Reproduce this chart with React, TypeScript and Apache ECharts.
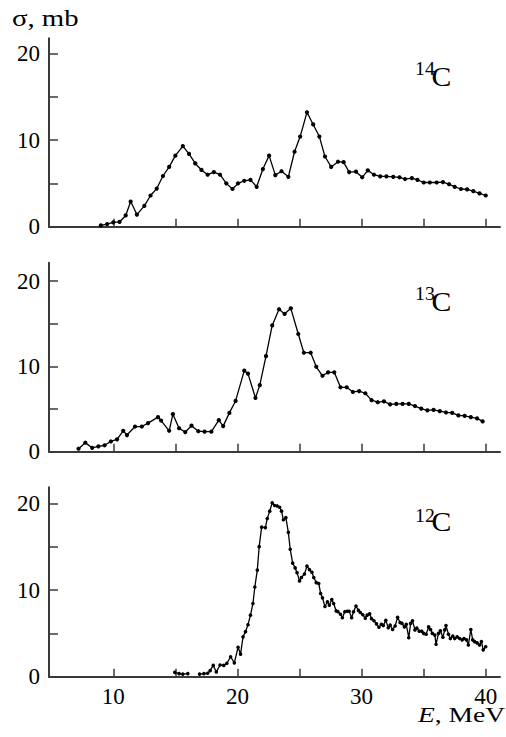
import React, { useEffect, useRef } from "react";
import * as echarts from "echarts";

// ---- Data ----
const E14 = [9.0, 9.5, 10.0, 10.5, 11.0, 11.4, 11.9, 12.5, 13.0, 13.5, 14.0, 14.5, 15.0, 15.6, 16.1, 16.6, 17.1, 17.6, 18.1, 18.6, 19.1, 19.6, 20.05, 20.55, 21.05, 21.55, 22.05, 22.55, 23.05, 23.55, 24.1, 24.6, 25.05, 25.6, 26.1, 26.6, 27.05, 27.55, 28.1, 28.55, 29.0, 29.55, 30.05, 30.5, 31.0, 31.5, 32.0, 32.55, 33.05, 33.5, 34.05, 34.5, 35.0, 35.5, 36.05, 36.55, 37.05, 37.5, 38.0, 38.5, 39.0, 39.5, 40.0];
const S14 = [0.15, 0.3, 0.5, 0.55, 1.3, 2.9, 1.4, 2.4, 3.6, 4.4, 5.85, 6.9, 8.2, 9.3, 8.4, 7.3, 6.55, 6.0, 6.3, 6.0, 5.0, 4.35, 5.0, 5.3, 5.4, 4.6, 6.65, 8.2, 5.95, 6.4, 5.75, 8.65, 10.4, 13.2, 11.8, 10.4, 8.1, 6.9, 7.5, 7.45, 6.3, 6.35, 5.7, 6.5, 6.0, 5.8, 5.8, 5.75, 5.7, 5.5, 5.6, 5.4, 5.1, 5.1, 5.1, 5.15, 4.9, 4.6, 4.35, 4.3, 4.1, 3.85, 3.6];

const E13 = [7.2, 7.75, 8.3, 8.8, 9.3, 9.8, 10.3, 10.8, 11.1, 11.75, 12.3, 12.8, 13.6, 13.85, 14.5, 14.8, 15.3, 15.8, 16.3, 16.85, 17.35, 17.9, 18.5, 18.85, 19.35, 19.85, 20.55, 20.85, 21.45, 21.8, 22.3, 22.8, 23.35, 23.8, 24.3, 24.9, 25.35, 25.9, 26.35, 26.85, 27.3, 27.8, 28.3, 28.8, 29.3, 29.8, 30.3, 30.8, 31.3, 31.8, 32.3, 32.8, 33.3, 33.8, 34.3, 34.8, 35.3, 35.8, 36.3, 36.8, 37.3, 37.8, 38.3, 38.8, 39.3, 39.75];
const S13 = [0.35, 1.05, 0.45, 0.63, 0.75, 1.2, 1.45, 2.45, 1.95, 2.95, 2.95, 3.35, 4.05, 3.65, 2.45, 4.4, 2.75, 2.3, 3.05, 2.4, 2.35, 2.35, 3.7, 3.0, 4.55, 5.95, 9.5, 9.15, 6.3, 7.8, 11.2, 14.8, 16.7, 16.15, 16.8, 13.8, 11.6, 11.6, 9.95, 8.9, 9.3, 9.3, 7.55, 7.55, 7.0, 7.1, 6.85, 6.05, 5.8, 5.9, 5.55, 5.6, 5.6, 5.6, 5.35, 5.05, 4.85, 4.9, 4.75, 4.6, 4.55, 4.25, 4.2, 4.05, 3.9, 3.55];

const E12 = [14.95, 15.3, 15.6, 16.0, 16.5, 16.95, 17.3, 17.6, 17.8, 18.05, 18.3, 18.6, 18.9, 19.15, 19.45, 19.75, 20.05, 20.25, 20.45, 20.65, 20.85, 21.05, 21.25, 21.4, 21.6, 21.75, 21.95, 22.25, 22.4, 22.6, 22.8, 23.0, 23.2, 23.4, 23.55, 23.7, 23.9, 24.1, 24.25, 24.45, 24.65, 24.8, 25.0, 25.15, 25.4, 25.6, 25.8, 26.0, 26.15, 26.35, 26.55, 26.7, 26.85, 27.05, 27.25, 27.4, 27.6, 27.75, 27.95, 28.1, 28.3, 28.45, 28.65, 28.85, 29.0, 29.2, 29.35, 29.55, 29.75, 29.9, 30.1, 30.3, 30.45, 30.65, 30.8, 31.0, 31.2, 31.4, 31.6, 31.75, 31.95, 32.15, 32.3, 32.5, 32.7, 32.9, 33.1, 33.25, 33.45, 33.6, 33.8, 33.95, 34.1, 34.3, 34.45, 34.65, 34.85, 35.0, 35.2, 35.4, 35.55, 35.7, 35.9, 36.0, 36.2, 36.35, 36.55, 36.7, 36.8, 37.0, 37.15, 37.35, 37.5, 37.7, 37.9, 38.1, 38.25, 38.45, 38.6, 38.8, 38.95, 39.1, 39.3, 39.5, 39.65, 39.8, 40.0];
const S12 = [0.5, 0.35, 0.3, 0.35, null, 0.3, 0.35, 0.4, 0.7, 1.3, 0.55, 1.35, 1.3, 1.55, 2.3, 1.6, 3.4, 2.6, 4.6, 5.2, 6.0, 7.1, 8.45, 10.35, 12.3, 15.0, 17.25, 17.2, 18.25, 19.1, 20.05, 19.75, 19.7, 19.55, 19.1, 18.1, 18.35, 16.65, 14.7, 13.1, 12.55, 12.0, 11.05, 11.45, 11.85, 12.75, 12.35, 12.05, 11.45, 10.85, 10.75, 9.6, 9.1, 8.1, 8.65, 8.25, 8.9, 8.45, 7.6, 7.5, 7.2, 6.8, 7.5, 7.55, 7.55, 6.8, 7.5, 8.15, 7.65, 7.4, 7.15, 6.75, 7.1, 7.25, 6.7, 6.45, 6.1, 5.7, 6.05, 5.9, 6.5, 5.65, 5.95, 5.45, 5.85, 6.85, 6.25, 6.15, 5.75, 6.05, 4.5, 6.15, 6.45, 5.4, 5.6, 5.25, 5.25, 5.0, 4.9, 5.75, 5.45, 5.0, 4.8, 3.75, 5.0, 5.3, 4.55, 5.4, 5.9, 4.9, 4.4, 4.7, 4.4, 4.6, 4.4, 4.25, 4.4, 4.25, 3.65, 5.45, 4.25, 4.05, 3.9, 3.65, 4.05, 3.1, 3.45];

const X_TICKS = [10, 15, 20, 25, 30, 35, 40];
const X_LABELS = [10, 20, 30, 40];
const Y_TICKS = [0, 5, 10, 15, 20];
const Y_LABELS = [0, 10, 20];
const ISOTOPES = [
  { mass: "14", symbol: "C" },
  { mass: "13", symbol: "C" },
  { mass: "12", symbol: "C" },
];
const Y_TITLE = "σ, mb";
const X_TITLE = "{i|E}, MeV";

// ---- Layout / style ----
const FONT = '"Liberation Serif", "Times New Roman", serif';
const AXIS_COLOR = "#3a3a3a";
const PANELS = [
  { top: 38.3, height: 188.4, yMax: 21.74, E: E14, S: S14, labelY: 77, supY: 69 },
  { top: 262.7, height: 189, yMax: 22.15, E: E13, S: S13, labelY: 302, supY: 294 },
  { top: 487.3, height: 189.4, yMax: 21.85, E: E12, S: S12, labelY: 522, supY: 515.5 },
];

function zip(xs: number[], ys: (number | null)[]) {
  return xs.map((x, i) => [x, ys[i] === null ? "-" : ys[i]]);
}

export default function App() {
  const ref = useRef<HTMLDivElement>(null);
  useEffect(() => {
    if (!ref.current) return;
    const chart = echarts.init(ref.current, undefined, { renderer: "svg" });
    const option: any = {
      animation: false,
      backgroundColor: "#ffffff",
      grid: PANELS.map((p) => ({ left: 49, right: 6, top: p.top, height: p.height })),
      xAxis: PANELS.map((p, i) => ({
        type: "value",
        gridIndex: i,
        min: 4.82,
        max: 41.15,
        axisLine: { show: true, onZero: false, lineStyle: { color: AXIS_COLOR, width: 2 } },
        axisTick: {
          show: true,
          inside: true,
          length: 8,
          customValues: X_TICKS,
          lineStyle: { color: AXIS_COLOR, width: 1.5 },
        },
        axisLabel: {
          show: i === 2,
          customValues: X_LABELS,
          margin: 8,
          fontFamily: FONT,
          fontSize: 23,
          color: "#000",
        },
        splitLine: { show: false },
      })),
      yAxis: PANELS.map((p, i) => ({
        type: "value",
        gridIndex: i,
        min: 0,
        max: p.yMax,
        axisLine: { show: true, onZero: false, lineStyle: { color: AXIS_COLOR, width: 2 } },
        axisTick: {
          show: true,
          inside: true,
          length: 9,
          customValues: Y_TICKS,
          lineStyle: { color: AXIS_COLOR, width: 1.5 },
        },
        axisLabel: {
          show: true,
          customValues: Y_LABELS,
          margin: 9,
          fontFamily: FONT,
          fontSize: 23,
          color: "#000",
        },
        splitLine: { show: false },
      })),
      series: PANELS.map((p, i) => ({
        type: "line",
        xAxisIndex: i,
        yAxisIndex: i,
        data: zip(p.E, p.S),
        connectNulls: false,
        symbol: "circle",
        symbolSize: i === 2 ? 3.6 : 4.2,
        showSymbol: true,
        itemStyle: { color: "#000" },
        lineStyle: { color: "#000", width: 1.3 },
      })),
      graphic: [
        {
          type: "text",
          x: 12,
          y: 18.5,
          scaleX: 1.25,
          style: {
            text: Y_TITLE,
            fontFamily: FONT,
            fontSize: 23,
            fill: "#000",
            align: "left",
            verticalAlign: "middle",
            textAlign: "left",
            textVerticalAlign: "middle",
          },
        },
        {
          type: "text",
          x: 505,
          y: 714.5,
          scaleX: 1.25,
          style: {
            text: X_TITLE,
            rich: { i: { fontStyle: "italic", fontFamily: FONT, fontSize: 22, fill: "#000" } },
            fontFamily: FONT,
            fontSize: 22,
            fill: "#000",
            align: "right",
            verticalAlign: "middle",
            textAlign: "right",
            textVerticalAlign: "middle",
          },
        },
        ...PANELS.flatMap((p, i) => [
          {
            type: "text",
            x: 415,
            y: p.supY,
            scaleX: 1.1,
            style: {
              text: ISOTOPES[i].mass,
              fontFamily: FONT,
              fontSize: 18,
              fill: "#000",
              align: "left",
              verticalAlign: "middle",
              textAlign: "left",
              textVerticalAlign: "middle",
            },
          },
          {
            type: "text",
            x: 431.5,
            y: p.labelY,
            scaleX: 1.1,
            style: {
              text: ISOTOPES[i].symbol,
              fontFamily: FONT,
              fontSize: 27,
              fill: "#000",
              align: "left",
              verticalAlign: "middle",
              textAlign: "left",
              textVerticalAlign: "middle",
            },
          },
        ]),
      ],
    };
    chart.setOption(option);
    return () => chart.dispose();
  }, []);
  return (
    <div
      ref={ref}
      style={{ position: "fixed", left: 0, top: 0, width: 506, height: 737, background: "#fff" }}
    />
  );
}
